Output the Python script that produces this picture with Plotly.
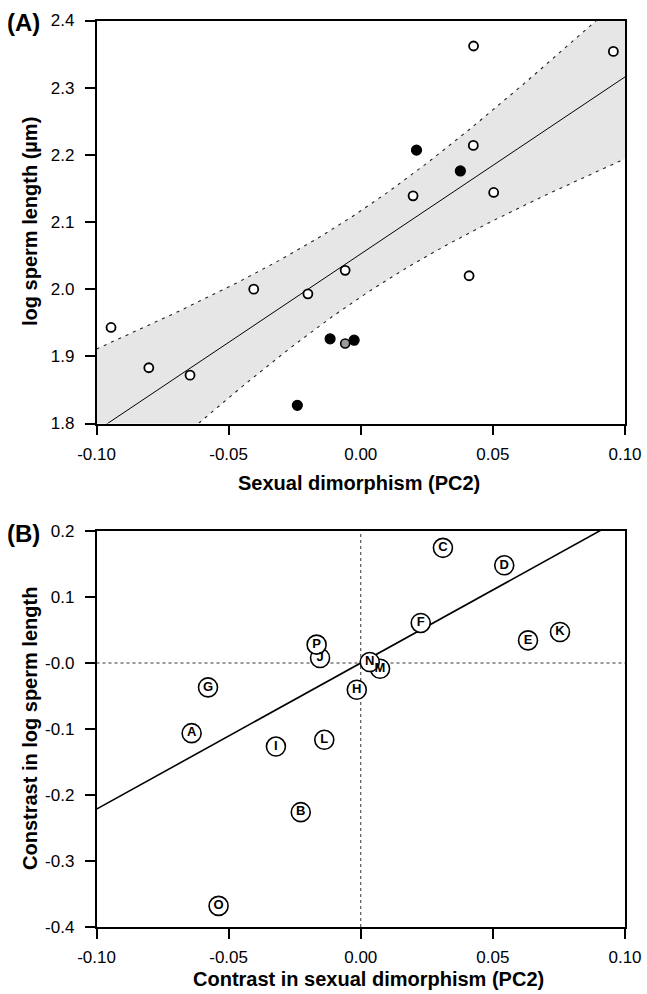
import numpy as np
import plotly.graph_objects as go

# ---------------- Panel A data ----------------
a_open_x = [-0.0945, -0.0802, -0.0646, -0.0405, -0.0200, -0.0059, 0.0198, 0.0426, 0.0427, 0.0410, 0.0503, 0.0956]
a_open_y = [1.943, 1.883, 1.872, 2.000, 1.993, 2.028, 2.139, 2.214, 2.362, 2.020, 2.144, 2.354]
a_black_x = [-0.0240, -0.0116, -0.0025, 0.0211, 0.0377]
a_black_y = [1.827, 1.926, 1.924, 2.207, 2.176]
a_grey_x = [-0.0059]
a_grey_y = [1.919]

a_fit_intercept = 2.0525
a_fit_slope = 2.635
a_ci_a = 0.0041
a_ci_b = 1.078
a_ci_x0 = 0.0

a_xticks = [-0.10, -0.05, 0.00, 0.05, 0.10]
a_xticklabels = ["-0.10", "-0.05", "0.00", "0.05", "0.10"]
a_yticks = [1.8, 1.9, 2.0, 2.1, 2.2, 2.3, 2.4]
a_yticklabels = ["1.8", "1.9", "2.0", "2.1", "2.2", "2.3", "2.4"]

# ---------------- Panel B data ----------------
b_labels = ["A", "B", "C", "D", "E", "F", "G", "H", "I", "J", "K", "L", "M", "N", "O", "P"]
b_x = [-0.0640, -0.0227, 0.0311, 0.0543, 0.0633, 0.0227, -0.0578, -0.0015,
       -0.0321, -0.0154, 0.0754, -0.0138, 0.0073, 0.0034, -0.0538, -0.0167]
b_y = [-0.1063, -0.226, 0.1745, 0.148, 0.0343, 0.0607, -0.037, -0.0405,
       -0.1266, 0.0076, 0.047, -0.1164, -0.0087, 0.0015, -0.368, 0.0278]
b_fit_slope = 2.214

b_xticks = [-0.10, -0.05, 0.00, 0.05, 0.10]
b_xticklabels = ["-0.10", "-0.05", "0.00", "0.05", "0.10"]
b_yticks = [-0.4, -0.3, -0.2, -0.1, 0.0, 0.1, 0.2]
b_yticklabels = ["-0.4", "-0.3", "-0.2", "-0.1", "-0.0", "0.1", "0.2"]

W, H = 647, 994
FONT = "Liberation Sans, Arial, sans-serif"

fig = go.Figure()

# ---- Panel A: confidence band ----
xs = np.linspace(-0.10, 0.10, 201)
yhat = a_fit_intercept + a_fit_slope * xs
half = np.sqrt(a_ci_a + a_ci_b * (xs - a_ci_x0) ** 2)
upper = yhat + half
lower = yhat - half

fig.add_trace(go.Scatter(
    x=np.concatenate([xs, xs[::-1]]), y=np.concatenate([upper, lower[::-1]]),
    fill="toself", fillcolor="#e6e6e6", line=dict(width=0), mode="lines",
    hoverinfo="skip", showlegend=False, xaxis="x", yaxis="y"))
for band in (upper, lower):
    fig.add_trace(go.Scatter(
        x=xs, y=band, mode="lines",
        line=dict(color="#222222", width=1.1, dash="3px,5px"),
        showlegend=False, xaxis="x", yaxis="y"))
fig.add_trace(go.Scatter(
    x=xs, y=yhat, mode="lines", line=dict(color="black", width=1),
    showlegend=False, xaxis="x", yaxis="y"))

fig.add_trace(go.Scatter(
    x=a_open_x, y=a_open_y, mode="markers",
    marker=dict(size=9, color="white", line=dict(color="black", width=1.8)),
    showlegend=False, xaxis="x", yaxis="y", cliponaxis=False))
fig.add_trace(go.Scatter(
    x=a_black_x, y=a_black_y, mode="markers",
    marker=dict(size=10, color="black", line=dict(color="black", width=1.2)),
    showlegend=False, xaxis="x", yaxis="y"))
fig.add_trace(go.Scatter(
    x=a_grey_x, y=a_grey_y, mode="markers",
    marker=dict(size=9, color="#9a9a9a", line=dict(color="black", width=1.6)),
    showlegend=False, xaxis="x", yaxis="y"))

# ---- Panel B ----
fig.add_trace(go.Scatter(
    x=[-0.10, 0.10], y=[b_fit_slope * -0.10, b_fit_slope * 0.10], mode="lines",
    line=dict(color="black", width=1.6), showlegend=False, xaxis="x2", yaxis="y2"))

fig.add_trace(go.Scatter(
    x=b_x, y=b_y, mode="markers+text", text=b_labels,
    textposition="middle center",
    textfont=dict(family=FONT, size=13, color="black", weight="bold"),
    marker=dict(size=19, color="white", line=dict(color="black", width=1.6)),
    showlegend=False, xaxis="x2", yaxis="y2"))

# dotted zero lines
fig.add_shape(type="line", xref="x2", yref="y2 domain", x0=0, x1=0, y0=0, y1=1,
              line=dict(color="#333333", width=1, dash="dot"), layer="below")
fig.add_shape(type="line", xref="x2 domain", yref="y2", x0=0, x1=1, y0=0, y1=0,
              line=dict(color="#333333", width=1, dash="dot"), layer="below")

dom_x = [96.5 / W, 625 / W]
dom_ya = [1 - 423.5 / H, 1 - 20.5 / H]
dom_yb = [1 - 927 / H, 1 - 531 / H]

axis_common = dict(
    showline=True, linecolor="black", linewidth=1.5, mirror=True,
    ticks="outside", ticklen=10, tickwidth=1.5, tickcolor="black",
    showgrid=False, zeroline=False, automargin=False,
    tickfont=dict(family=FONT, size=17, color="black"),
)
xaxis_extra = dict(ticklabelstandoff=4)
yaxis_extra = dict(ticklabelstandoff=7)

fig.update_layout(
    width=W, height=H,
    margin=dict(l=0, r=0, t=0, b=0, autoexpand=False),
    paper_bgcolor="white", plot_bgcolor="white",
    xaxis=dict(domain=dom_x, range=[-0.10, 0.10], anchor="y",
               tickvals=a_xticks, ticktext=a_xticklabels, **axis_common, **xaxis_extra),
    yaxis=dict(domain=dom_ya, range=[1.8, 2.4], anchor="x",
               tickvals=a_yticks, ticktext=a_yticklabels, **axis_common, **yaxis_extra),
    xaxis2=dict(domain=dom_x, range=[-0.10, 0.10], anchor="y2",
                tickvals=b_xticks, ticktext=b_xticklabels, **axis_common, **xaxis_extra),
    yaxis2=dict(domain=dom_yb, range=[-0.4, 0.2], anchor="x2",
                tickvals=b_yticks, ticktext=b_yticklabels, **axis_common, **yaxis_extra),
    showlegend=False,
)

def px_ann(text, x, y, size, angle=0, xanchor="center"):
    fig.add_annotation(text=text, xref="paper", yref="paper",
                       x=x / W, y=1 - y / H, xanchor=xanchor, yanchor="middle",
                       showarrow=False, textangle=angle,
                       font=dict(family=FONT, size=size, color="black", weight="bold"))

px_ann("(A)", 5, 22, 24, xanchor="left")
px_ann("(B)", 5, 533, 24, xanchor="left")
px_ann("Sexual dimorphism (PC2)", 359, 483, 20)
px_ann("Contrast in sexual dimorphism (PC2)", 368, 979, 20)
px_ann("log sperm length (µm)", 30, 222, 20, angle=-90)
px_ann("Constrast in log sperm length", 30, 729, 20, angle=-90)

fig.write_html("out.html", config={"displayModeBar": False},
               post_script="document.body.style.margin='0';document.body.style.overflow='hidden';")
